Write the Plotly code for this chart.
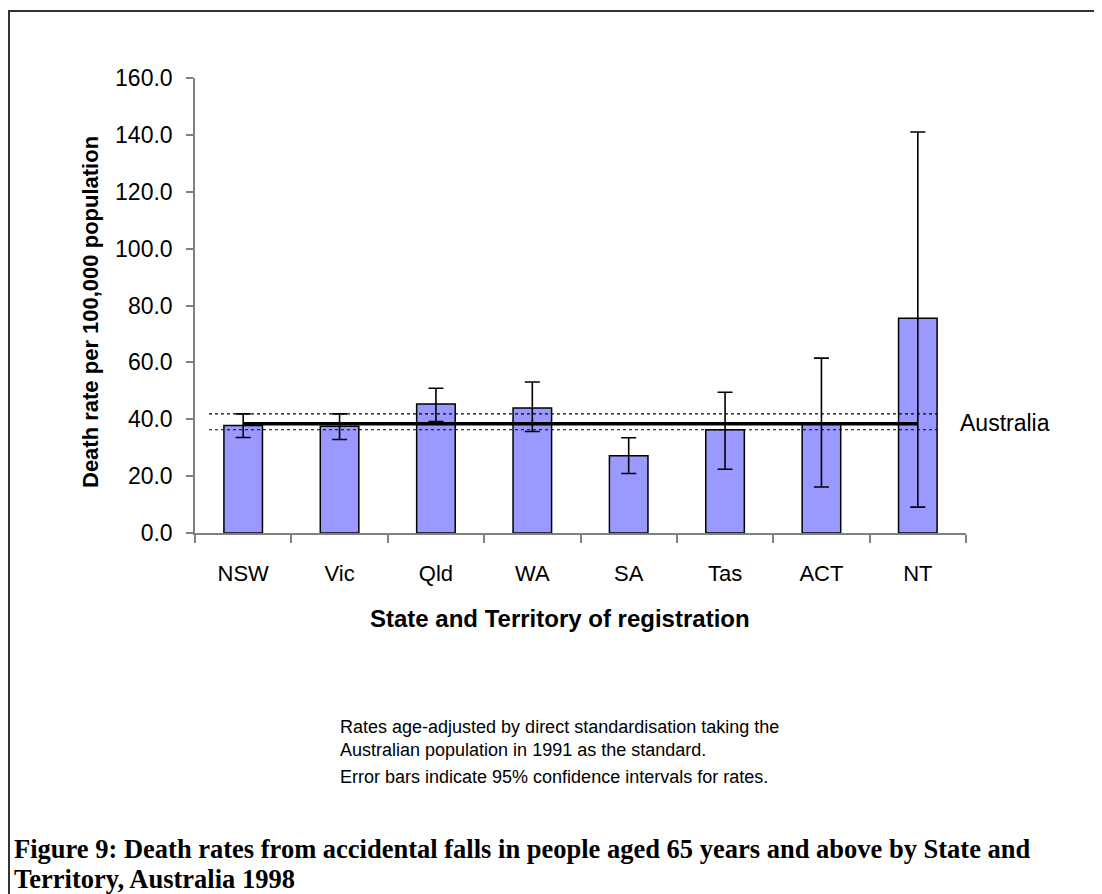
import plotly.graph_objects as go

# ---- data ----
categories = ["NSW", "Vic", "Qld", "WA", "SA", "Tas", "ACT", "NT"]
rates = [37.8, 37.5, 45.4, 44.0, 27.2, 36.3, 38.2, 75.5]
ci_upper = [41.9, 41.9, 50.9, 53.1, 33.5, 49.5, 61.5, 141.0]
ci_lower = [33.6, 32.9, 39.2, 35.7, 20.9, 22.4, 16.2, 9.1]
australia_rate = 38.4
australia_upper = 41.9
australia_lower = 36.3
y_ticks = [0, 20, 40, 60, 80, 100, 120, 140, 160]

# ---- layout geometry (reference pixels) ----
OFF = 8                      # browser default body margin
W, H = 1102, 894             # window
FW, FH = W - OFF, H - OFF    # figure size
L, R, T, B = 195, 966, 78, 533  # plot-area edges in window pixels


def px_x(p):
    return (p - L) / (R - L)


def px_y(p):
    return (B - p) / (B - T)


SANS = "Liberation Sans, Arial, sans-serif"
SERIF = "Liberation Serif, Times New Roman, serif"

err_plus = [u - r for u, r in zip(ci_upper, rates)]
err_minus = [r - l for r, l in zip(rates, ci_lower)]

fig = go.Figure()
fig.add_trace(go.Bar(
    x=categories, y=rates, width=0.40,
    marker=dict(color="#9999FF", line=dict(color="black", width=1.5)),
    error_y=dict(type="data", symmetric=False, array=err_plus,
                 arrayminus=err_minus, color="black", thickness=1.6, width=7.5),
    hoverinfo="x+y",
))
fig.add_trace(go.Scatter(
    x=categories, y=[australia_rate] * len(categories), mode="lines",
    line=dict(color="black", width=3.5), hoverinfo="y",
))

shapes = []
for yv in (australia_upper, australia_lower):
    shapes.append(dict(type="line", xref="x", yref="y", x0=-0.355, x1=7.2,
                       y0=yv, y1=yv, line=dict(color="black", width=1.2, dash="dot")))
# frame (left and top borders only)
shapes.append(dict(type="line", xref="paper", yref="paper",
                   x0=px_x(9), x1=px_x(9), y0=px_y(10), y1=px_y(H + 5),
                   line=dict(color="#333333", width=2)))
shapes.append(dict(type="line", xref="paper", yref="paper",
                   x0=px_x(8), x1=px_x(W + 5), y0=px_y(11), y1=px_y(11),
                   line=dict(color="#333333", width=2)))

ann = []
ann.append(dict(text="<b>Death rate per 100,000 population</b>", textangle=-90,
                x=px_x(90), y=px_y(312), xanchor="center", yanchor="middle",
                xref="paper", yref="paper",
                showarrow=False, font=dict(family=SANS, size=22, color="black")))
ann.append(dict(text="<b>State and Territory of registration</b>",
                x=px_x(560), y=px_y(618), xanchor="center", yanchor="middle",
                xref="paper", yref="paper",
                showarrow=False, font=dict(family=SANS, size=24, color="black")))
ann.append(dict(text="Australia", x=px_x(958), y=px_y(423), xanchor="left",
                yanchor="middle", xref="paper", yref="paper", showarrow=False,
                font=dict(family=SANS, size=23, color="black")))
notes = [
    ("Rates age-adjusted by direct standardisation taking the", 727),
    ("Australian population in 1991 as the standard.", 750),
    ("Error bars indicate 95% confidence intervals for rates.", 777),
]
for txt, yy in notes:
    ann.append(dict(text=txt, x=px_x(338), y=px_y(yy), xanchor="left", yanchor="middle",
                    xref="paper", yref="paper", showarrow=False,
                    font=dict(family=SANS, size=18, color="black")))
titles = [
    ("Figure 9: Death rates from accidental falls in people aged 65 years and above by State and", 849),
    ("Territory, Australia 1998", 879),
]
for txt, yy in titles:
    ann.append(dict(text="<b>" + txt + "</b>", x=px_x(12), y=px_y(yy), xanchor="left",
                    yanchor="middle", xref="paper", yref="paper", showarrow=False,
                    font=dict(family=SERIF, size=26.5, color="black")))

fig.update_layout(
    width=FW, height=FH,
    margin=dict(l=L - OFF, r=FW - (R - OFF), t=T - OFF, b=FH - (B - OFF), pad=0),
    paper_bgcolor="white", plot_bgcolor="white",
    showlegend=False,
    shapes=shapes, annotations=ann,
    font=dict(family=SANS, color="black"),
)
fig.update_xaxes(
    type="category", showline=True, linecolor="#808080", linewidth=1.5,
    ticks="outside", tickson="boundaries", ticklen=8, tickcolor="#808080",
    tickwidth=1.5, tickfont=dict(family=SANS, size=22, color="black"),
    ticklabelstandoff=20, showgrid=False, zeroline=False,
)
fig.update_yaxes(
    range=[0, 160], tickvals=y_ticks, tickformat=".1f", showline=True,
    linecolor="#808080", linewidth=1.5, ticks="outside", ticklen=7,
    tickcolor="#808080", tickwidth=1.5,
    tickfont=dict(family=SANS, size=23, color="black"),
    ticklabelstandoff=9, showgrid=False, zeroline=False,
)

fig.write_html("out.html")
